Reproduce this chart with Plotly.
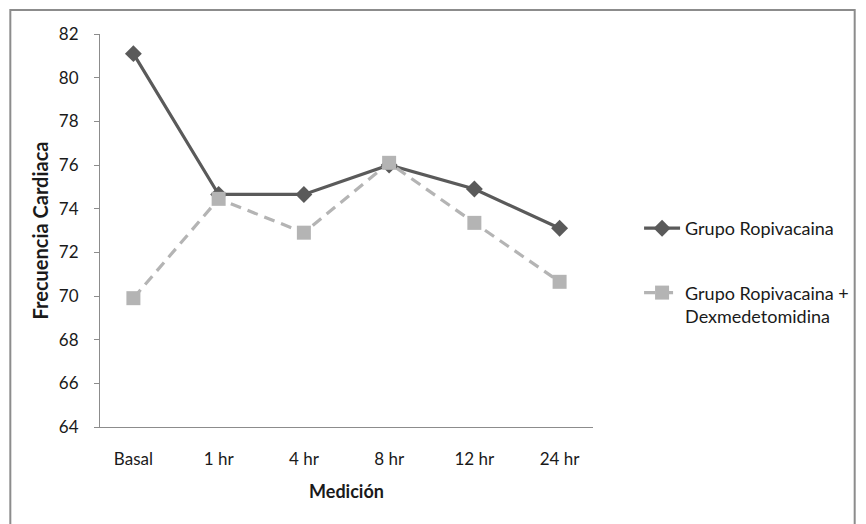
import plotly.graph_objects as go

categories = ["Basal", "1 hr", "4 hr", "8 hr", "12 hr", "24 hr"]
ropivacaina = [81.1, 74.65, 74.65, 76.0, 74.9, 73.1]
ropi_dex = [69.9, 74.45, 72.9, 76.1, 73.35, 70.65]
series_names = ["Grupo Ropivacaina", "Grupo Ropivacaina +<br>Dexmedetomidina"]
y_ticks = [64, 66, 68, 70, 72, 74, 76, 78, 80, 82]

FONT = "Lato, Open Sans, sans-serif"

W, H = 866, 524
L, R, T, B = 100, 263, 34, 97
pw, ph = W - L - R, H - T - B

fig = go.Figure()
fig.add_trace(go.Scatter(
    x=categories, y=ropivacaina, name=series_names[0], mode="lines+markers",
    legendgroup="a",
    line=dict(color="#5a5a5a", width=3.2),
    marker=dict(symbol="diamond", size=13, color="#5a5a5a"),
))
fig.add_trace(go.Scatter(
    x=categories, y=ropi_dex, name=series_names[1], mode="lines+markers",
    legendgroup="b",
    line=dict(color="#b4b4b4", width=3.2, dash="11px,7px"),
    marker=dict(symbol="square", size=14, color="#b4b4b4"),
))

fig.update_layout(
    width=W, height=H,
    margin=dict(l=L, r=R, t=T, b=B),
    paper_bgcolor="white", plot_bgcolor="white",
    font=dict(family=FONT, size=17, color="#1a1a1a"),
    showlegend=True,
    legend=dict(x=(650 - L) / pw, y=(H - 210 - B) / ph, xanchor="left", yanchor="top",
                font=dict(size=18), tracegroupgap=38, itemwidth=36, valign="top",
                bgcolor="rgba(0,0,0,0)"),
    xaxis=dict(
        type="category", showline=True, linecolor="#8c8c8c", linewidth=1,
        ticks="", showgrid=False, zeroline=False,
        title=dict(text="<b>Medición</b>", font=dict(size=18), standoff=16),
        ticklabelstandoff=17,
    ),
    yaxis=dict(
        range=[64, 82], tickvals=y_ticks, showline=True, linecolor="#8c8c8c", linewidth=1,
        ticks="outside", ticklen=5, tickcolor="#8c8c8c", showgrid=False, zeroline=False,
        title=dict(text="<b>Frecuencia Cardiaca</b>", font=dict(size=20), standoff=4),
        ticklabelstandoff=12,
    ),
    shapes=[dict(
        type="rect", xref="paper", yref="paper",
        x0=(8.5 - L) / pw, x1=(870 - L) / pw,
        y0=(H - 530 - B) / ph, y1=(H - 10 - B) / ph,
        line=dict(color="#8c8c8c", width=2), layer="below",
    )],
)

fig.write_html("out.html")
